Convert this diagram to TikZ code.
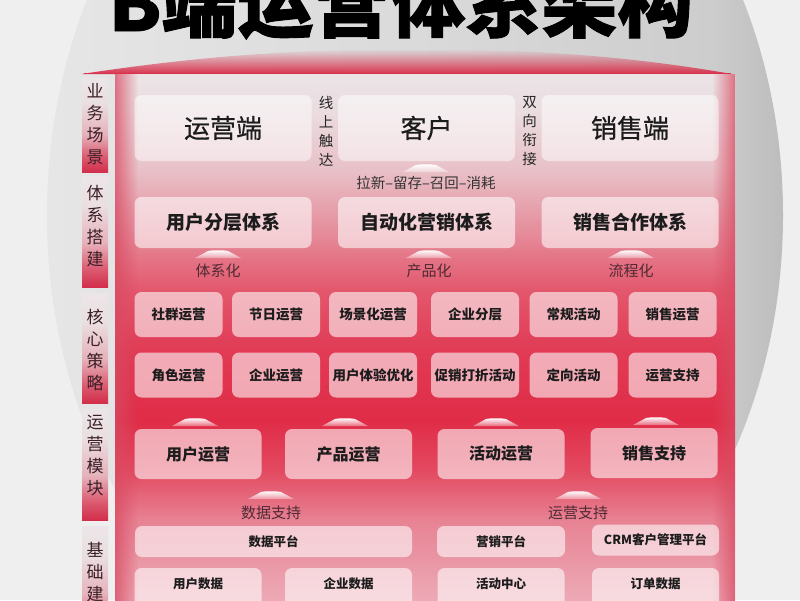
\documentclass[tikz,border=0pt]{standalone}
\usepackage{fontspec}
\setmainfont{Noto Sans CJK SC}
\newfontfamily\titlefont{Noto Sans CJK SC}[BoldFeatures={FakeBold=1.2}]
\newfontfamily\medfont{Noto Sans CJK SC}[FakeBold=0.6]
\usetikzlibrary{fadings}
\definecolor{bgc}{HTML}{EFEFF0}
\definecolor{circA}{HTML}{E6E6E7}
\definecolor{circB}{HTML}{DADADB}
\definecolor{circC}{HTML}{CDCDCE}
\definecolor{circD}{HTML}{BDBDBE}
\definecolor{p0}{HTML}{EBE4E6}
\definecolor{p1}{HTML}{EADDE0}
\definecolor{p2}{HTML}{E8C0C7}
\definecolor{p3}{HTML}{E58E9C}
\definecolor{p4}{HTML}{E3576C}
\definecolor{p5}{HTML}{E13B55}
\definecolor{p6}{HTML}{E02C47}
\definecolor{p7}{HTML}{E34A61}
\definecolor{p8}{HTML}{E78293}
\definecolor{p9}{HTML}{EDAFBA}
\definecolor{sA}{HTML}{D22E4A}
\definecolor{sB}{HTML}{DB5A70}
\definecolor{sC}{HTML}{E6B2BB}
\definecolor{sD}{HTML}{EADFE1}
\definecolor{sE}{HTML}{ECE5E7}
\definecolor{roofred}{HTML}{D8324D}
\definecolor{edgered}{HTML}{D94A62}
\definecolor{sidetext}{HTML}{3B1F27}
\definecolor{labtext}{HTML}{4E2A33}
\definecolor{boxtext}{HTML}{1C1C1C}
\pgfdeclarehorizontalshading{circshade}{100bp}{color(0bp)=(circA); color(25bp)=(circA); color(50bp)=(circB); color(70bp)=(circC); color(75bp)=(circD); color(100bp)=(circD)}
\pgfdeclareverticalshading{panelshade}{100bp}{color(0bp)=(p9); color(25bp)=(p9); color(33.4bp)=(p8); color(38bp)=(p7); color(42.7bp)=(p6); color(49.2bp)=(p5); color(54.8bp)=(p4); color(60.4bp)=(p3); color(66bp)=(p2); color(71.6bp)=(p1); color(75bp)=(p0); color(100bp)=(p0)}
\pgfdeclareverticalshading{segshade}{100bp}{color(0bp)=(sA); color(25bp)=(sA); color(33bp)=(sB); color(45bp)=(sC); color(62bp)=(sD); color(75bp)=(sE); color(100bp)=(sE)}
\tikzfading[name=faderight, left color=transparent!0, right color=transparent!100]
\tikzfading[name=fadeleft, left color=transparent!100, right color=transparent!0]
\tikzfading[name=fadeup, top color=transparent!100, bottom color=transparent!0]
\tikzfading[name=fadedown, top color=transparent!0, bottom color=transparent!70]
\tikzset{
  box/.style={rounded corners=7pt, fill=white, fill opacity=0.58, text opacity=1,
    inner sep=0pt, text=boxtext, anchor=center},
  toprow/.style={box, fill opacity=0.5, minimum width=177, minimum height=66, font=\medfont\fontsize{26}{30}\selectfont},
  sysrow/.style={box, minimum width=177, minimum height=51, font=\fontsize{19}{22}\selectfont\bfseries},
  corebox/.style={box, minimum width=88, minimum height=45, font=\fontsize{13.5}{16}\selectfont\bfseries},
  modbox/.style={box, minimum width=127, minimum height=50, font=\fontsize{16}{19}\selectfont\bfseries},
  basebox/.style={box, minimum height=31, font=\fontsize{12.5}{15}\selectfont\bfseries},
  lowbox/.style={box, minimum width=127, minimum height=44, text depth=14pt, font=\fontsize{12.5}{15}\selectfont\bfseries},
  sidetxt/.style={align=center, inner sep=0pt, text=sidetext, font=\fontsize{17}{22}\selectfont},
  vtxt/.style={align=center, inner sep=0pt, text=black!85, font=\fontsize{14.5}{19}\selectfont},
  lab/.style={inner sep=0pt, text=labtext, font=\fontsize{15}{18}\selectfont},
  seg/.style={shading=segshade},
  mound/.pic={\fill[white, path fading=fadedown] (-23,4) -- (-10,-3) .. controls (-5,-4) and (5,-4) .. (10,-3) -- (23,4) -- cycle;}
}
\begin{document}
\begin{tikzpicture}[x=1pt,y=-1pt]
\useasboundingbox (0,0) rectangle (800,600);
\clip (0,0) rectangle (800,600);
% background
\fill[bgc] (0,0) rectangle (800,600);
\shade[shading=circshade] (415,215) ellipse [x radius=368, y radius=474];
% title
\node[anchor=base, inner sep=0pt, font=\titlefont\fontsize{76}{80}\selectfont\bfseries, text=black] (title) at (401,31) {B端运营体系架构};
% roof
\fill[roofred, path fading=fadeup] (82,74) .. controls (200,56) and (300,49) .. (415,49) .. controls (530,49) and (630,56) .. (733,74) -- cycle;
\draw[roofred, line width=1.2] (84,73.5) -- (731,73.5);
% panel
\shade[shading=panelshade] (115,74) rectangle (735,610);
\fill[edgered, opacity=0.75, path fading=faderight] (115,74) rectangle (138,610);
\fill[edgered, opacity=0.75, path fading=fadeleft] (712,74) rectangle (735,610);
% sidebar segments
\shade[seg] (82,78) rectangle (108,172);
\shade[seg] (82,176) rectangle (108,287);
\shade[seg] (82,293) rectangle (108,403);
\shade[seg] (82,409) rectangle (108,520);
\shade[seg] (82,526) rectangle (108,640);
\node[sidetxt] (s1) at (95,124.5) {业\\务\\场\\景};
\node[sidetxt] (s2) at (95,226) {体\\系\\搭\\建};
\node[sidetxt] (s3) at (95,349.5) {核\\心\\策\\略};
\node[sidetxt] (s4) at (95,455.5) {运\\营\\模\\块};
\node[sidetxt] (s5) at (95,572) {基\\础\\建};
% row 1
\node[toprow] (yyd) at (223,128) {运营端};
\node[toprow] (kh) at (426.5,128) {客户};
\node[toprow] (xsd) at (630,128) {销售端};
\node[vtxt] (xsch) at (326,131.5) {线\\上\\触\\达};
\node[vtxt] (sxxj) at (529.5,131.5) {双\\向\\衔\\接};
\pic at (426,168) {mound};
\node[lab, text=black!80, font=\fontsize{14.5}{18}\selectfont] (lx) at (426,183) {拉新–留存–召回–消耗};
% row 2
\node[sysrow] (yhfc) at (223,222.5) {用户分层体系};
\node[sysrow] (zdh) at (426.5,222.5) {自动化营销体系};
\node[sysrow] (xshz) at (630,222.5) {销售合作体系};
\pic at (218,254) {mound};
\pic at (429,254) {mound};
\pic at (631,254) {mound};
\node[lab] (txh) at (218,271) {体系化};
\node[lab] (cph) at (429,271) {产品化};
\node[lab] (lch) at (631,271) {流程化};
% row 3
\node[corebox] (c1) at (178.5,314.5) {社群运营};
\node[corebox] (c2) at (276,314.5) {节日运营};
\node[corebox] (c3) at (373,314.5) {场景化运营};
\node[corebox] (c4) at (475,314.5) {企业分层};
\node[corebox] (c5) at (573.5,314.5) {常规活动};
\node[corebox] (c6) at (672.5,314.5) {销售运营};
\node[corebox] (d1) at (178.5,375) {角色运营};
\node[corebox] (d2) at (276,375) {企业运营};
\node[corebox] (d3) at (373,375) {用户体验优化};
\node[corebox] (d4) at (475,375) {促销打折活动};
\node[corebox] (d5) at (573.5,375) {定向活动};
\node[corebox] (d6) at (672.5,375) {运营支持};
% row 4
\pic at (195,422) {mound};
\pic at (345,422) {mound};
\pic at (496,422) {mound};
\pic at (656,421) {mound};
\node[modbox] (m1) at (198,454) {用户运营};
\node[modbox] (m2) at (348.5,454) {产品运营};
\node[modbox] (m3) at (501,454) {活动运营};
\node[modbox] (m4) at (654,453) {销售支持};
\pic at (271,495) {mound};
\pic at (578,495) {mound};
\node[lab] (sjzc) at (271,513) {数据支持};
\node[lab] (yyzc) at (578,513) {运营支持};
% row 5
\node[basebox, minimum width=277] (sjpt) at (273.5,541.5) {数据平台};
\node[basebox, minimum width=128] (yxpt) at (501,541.5) {营销平台};
\node[basebox, minimum width=127] (crm) at (655.5,540) {CRM客户管理平台};
% row 6
\node[lowbox] (yhsj) at (198,590) {用户数据};
\node[lowbox] (qysj) at (348.5,590) {企业数据};
\node[lowbox] (hdzx) at (501,590) {活动中心};
\node[lowbox] (ddsj) at (655.5,590) {订单数据};
\end{tikzpicture}
\end{document}
